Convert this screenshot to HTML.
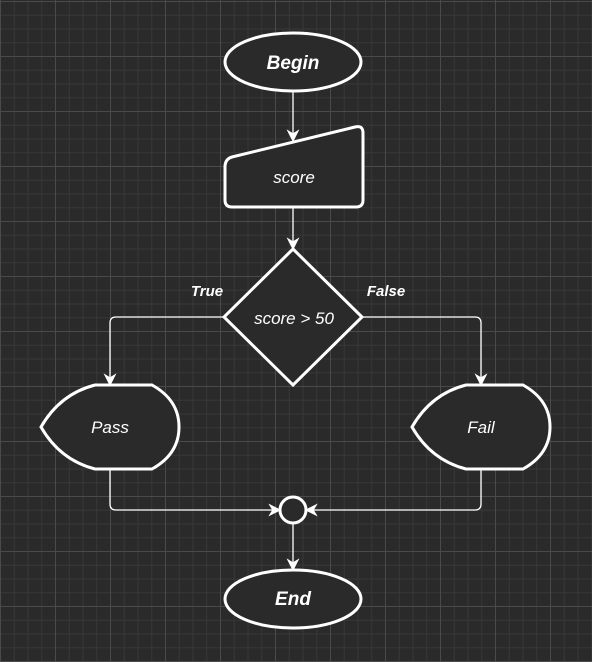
<!DOCTYPE html>
<html><head><meta charset="utf-8"><style>
html,body{margin:0;padding:0;}
body{width:592px;height:662px;overflow:hidden;background-color:#2a2a2a;
background-image:
linear-gradient(to right,#4a4a4a 1px,transparent 1px),
linear-gradient(to bottom,#4a4a4a 1px,transparent 1px),
linear-gradient(to right,#383838 1px,transparent 1px),
linear-gradient(to bottom,#383838 1px,transparent 1px);
background-size:55px 55px,55px 55px,13.75px 13.75px,13.75px 13.75px;
background-position:0 1px,1px 1px,0 1px,1px 1px;}
svg{position:absolute;left:0;top:0;}
text{font-family:"Liberation Sans",sans-serif;font-style:italic;fill:#fff;}
</style></head><body>
<svg width="592" height="662" viewBox="0 0 592 662">
<defs>
<marker id="a" viewBox="0 0 10 10" refX="9" refY="5" markerWidth="13" markerHeight="13" markerUnits="userSpaceOnUse" orient="auto">
<path d="M0,0 L10,5 L0,10 L3,5 Z" fill="#fff"/>
</marker>
</defs>
<g stroke="#fff" stroke-width="1.3" fill="none">
<line x1="293" y1="92" x2="293" y2="141" marker-end="url(#a)"/>
<line x1="293" y1="207" x2="293" y2="249" marker-end="url(#a)"/>
<path d="M224,317 H116 Q110,317 110,323 V385" marker-end="url(#a)"/>
<path d="M362,317 H475 Q481,317 481,323 V385" marker-end="url(#a)"/>
<path d="M110,469 V504 Q110,510 116,510 H280" marker-end="url(#a)"/>
<path d="M481,469 V504 Q481,510 475,510 H306" marker-end="url(#a)"/>
<line x1="293" y1="523" x2="293" y2="570" marker-end="url(#a)"/>
</g>
<g stroke="#fff" stroke-width="3" fill="#2a2a2a">
<ellipse cx="293" cy="62" rx="68" ry="29"/>
<path d="M225,167 Q225,159 232,157 L355,127 Q363,125 363,133 V200 Q363,207 356,207 H232 Q225,207 225,200 Z"/>
<path d="M293,249 L362,317 L293,385 L224,317 Z"/>
<path d="M95,385 H152 Q179,400 179,427 Q179,454 152,469 H95 Q60,460 41,427 Q60,394 95,385 Z"/>
<path d="M466,385 H523 Q550,400 550,427 Q550,454 523,469 H466 Q431,460 412,427 Q431,394 466,385 Z"/>
<circle cx="293" cy="510" r="13"/>
<ellipse cx="293" cy="599" rx="68" ry="29"/>
</g>
<text x="293" y="69" font-size="19" font-weight="bold" text-anchor="middle">Begin</text>
<text x="294" y="183" font-size="17" text-anchor="middle">score</text>
<text x="294" y="324" font-size="17" text-anchor="middle">score &gt; 50</text>
<text x="110" y="433" font-size="17" text-anchor="middle">Pass</text>
<text x="481" y="433" font-size="17" text-anchor="middle">Fail</text>
<text x="293" y="605" font-size="19" font-weight="bold" text-anchor="middle">End</text>
<text x="207" y="296" font-size="15" font-weight="bold" text-anchor="middle">True</text>
<text x="386" y="296" font-size="15" font-weight="bold" text-anchor="middle">False</text>
</svg>
</body></html>
